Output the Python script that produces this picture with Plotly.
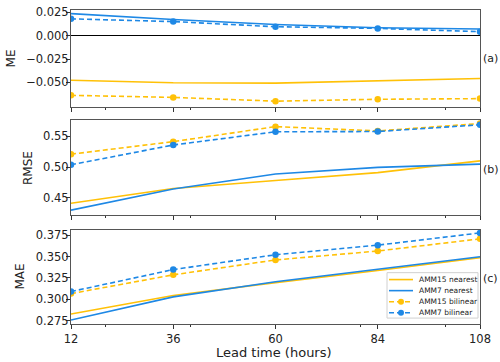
import plotly.graph_objects as go
from plotly.subplots import make_subplots

lead_time = [12, 36, 60, 84, 108]
x_ticks = [12, 36, 60, 84, 108]
x_minor = [20, 40, 60, 80, 100]

# ME
me_amm15_nearest = [-0.0476, -0.0504, -0.0507, -0.0479, -0.0458]
me_amm7_nearest = [0.0235, 0.0172, 0.0119, 0.0084, 0.0070]
me_amm15_bilinear = [-0.0638, -0.0660, -0.0700, -0.0680, -0.0673]
me_amm7_bilinear = [0.0179, 0.0150, 0.0095, 0.0077, 0.0042]

# RMSE
rmse_amm15_nearest = [0.4408, 0.4650, 0.4779, 0.4908, 0.5100]
rmse_amm7_nearest = [0.4296, 0.4640, 0.4887, 0.4995, 0.5048]
rmse_amm15_bilinear = [0.5210, 0.5415, 0.5660, 0.5590, 0.5710]
rmse_amm7_bilinear = [0.5037, 0.5360, 0.5576, 0.5580, 0.5690]

# MAE
mae_amm15_nearest = [0.2826, 0.3043, 0.3195, 0.3337, 0.3490]
mae_amm7_nearest = [0.2756, 0.3028, 0.3206, 0.3353, 0.3500]
mae_amm15_bilinear = [0.3066, 0.3287, 0.3462, 0.3567, 0.3710]
mae_amm7_bilinear = [0.3090, 0.3349, 0.3523, 0.3636, 0.3780]

me_ticks = [0.025, 0.0, -0.025, -0.05]
rmse_ticks = [0.45, 0.50, 0.55]
mae_ticks = [0.275, 0.300, 0.325, 0.350, 0.375]

series_names = ['AMM15 nearest', 'AMM7 nearest', 'AMM15 bilinear', 'AMM7 bilinear']

YELLOW = '#FFC107'
BLUE = '#1E88E5'
FONT = 'DejaVu Sans, sans-serif'
DASH = '5px,3px'

# pixel layout helpers (figure is 500x362, plot area x 71..480, y 5..325)
L, R, T, B = 71, 20, 5, 37
PW, PH = 500 - L - R, 362 - T - B


def px_x(p):
    return (p - L) / PW


def px_y(p):
    return (362 - B - p) / PH


styles = [
    dict(color=YELLOW, dash='solid', marker=False),
    dict(color=BLUE, dash='solid', marker=False),
    dict(color=YELLOW, dash=DASH, marker=True),
    dict(color=BLUE, dash=DASH, marker=True),
]

fig = make_subplots(rows=3, cols=1, vertical_spacing=0.04)

panels = [
    (me_amm15_nearest, me_amm7_nearest, me_amm15_bilinear, me_amm7_bilinear),
    (rmse_amm15_nearest, rmse_amm7_nearest, rmse_amm15_bilinear, rmse_amm7_bilinear),
    (mae_amm15_nearest, mae_amm7_nearest, mae_amm15_bilinear, mae_amm7_bilinear),
]

for i, series in enumerate(panels):
    for name, values, st in zip(series_names, series, styles):
        fig.add_trace(go.Scatter(
            x=lead_time, y=values, name=name,
            mode='lines+markers' if st['marker'] else 'lines',
            line=dict(color=st['color'], width=1.6, dash=st['dash']),
            marker=dict(size=6.5, color=st['color']),
            showlegend=False
        ), row=i + 1, col=1)

axis_common = dict(showgrid=False, showline=True, mirror=True, linecolor='#555', linewidth=1,
                   ticks='outside', ticklen=4, tickcolor='#333',
                   tickfont=dict(size=11.5, color='#222', family=FONT))

for row in (1, 2, 3):
    fig.update_xaxes(range=[12, 108], tickvals=x_ticks, showticklabels=(row == 3),
                     minor=dict(tickvals=x_minor, ticks='outside', ticklen=2, tickcolor='#333'),
                     row=row, col=1, **axis_common)

fig.update_yaxes(range=[-0.076, 0.0277], tickvals=me_ticks, tickformat='.3f',
                 zeroline=True, zerolinecolor='black', zerolinewidth=1.2, row=1, col=1, **axis_common)
fig.update_yaxes(range=[0.421, 0.577], tickvals=rmse_ticks, tickformat='.2f',
                 zeroline=False, row=2, col=1, **axis_common)
fig.update_yaxes(range=[0.2705, 0.382], tickvals=mae_ticks, tickformat='.3f',
                 zeroline=False, row=3, col=1, **axis_common)
fig.update_yaxes(ticklabelstandoff=-5)

fig.update_layout(
    yaxis=dict(domain=[px_y(104), px_y(5.7)]),
    yaxis2=dict(domain=[px_y(214), px_y(117.3)]),
    yaxis3=dict(domain=[px_y(324.3), px_y(228.3)]),
)

# y-axis titles and panel labels
for text, xpix, ypix in [('ME', 11, 55), ('RMSE', 28, 166), ('MAE', 20, 276)]:
    fig.add_annotation(text=text, xref='paper', yref='paper', x=px_x(xpix), y=px_y(ypix),
                       textangle=-90, showarrow=False, xanchor='center', yanchor='middle',
                       font=dict(size=12, color='#222', family=FONT))
for text, ypix in [('(a)', 55), ('(b)', 168), ('(c)', 278)]:
    fig.add_annotation(text=text, xref='paper', yref='paper', x=px_x(481), y=px_y(ypix),
                       showarrow=False, xanchor='left', yanchor='middle',
                       font=dict(size=11, color='#222', family=FONT))

fig.add_annotation(text='Lead time (hours)', xref='paper', yref='paper', x=px_x(274), y=px_y(353),
                   showarrow=False, xanchor='center', yanchor='middle',
                   font=dict(size=13, color='#222', family=FONT))

# compact legend box in panel (c), matplotlib style
fig.add_shape(type='rect', xref='paper', yref='paper',
              x0=px_x(387), x1=px_x(478), y0=px_y(318), y1=px_y(272),
              line=dict(color='#d0d0d0', width=1), fillcolor='rgba(255,255,255,0.85)')
for k, (name, st) in enumerate(zip(series_names, styles)):
    yp = px_y(279 + k * 11.2)
    fig.add_shape(type='line', xref='paper', yref='paper',
                  x0=px_x(389), x1=px_x(413), y0=yp, y1=yp,
                  line=dict(color=st['color'], width=1.6, dash=st['dash']))
    if st['marker']:
        fig.add_shape(type='circle', xref='paper', yref='paper',
                      x0=px_x(398), x1=px_x(404), y0=yp - 3 / PH, y1=yp + 3 / PH,
                      line=dict(color=st['color'], width=0), fillcolor=st['color'])
    fig.add_annotation(text=name, xref='paper', yref='paper', x=px_x(417), y=yp,
                       showarrow=False, xanchor='left', yanchor='middle',
                       font=dict(size=7.5, color='#222', family=FONT))

fig.update_layout(
    width=500, height=362,
    margin=dict(l=L, r=R, t=T, b=B),
    plot_bgcolor='white', paper_bgcolor='white',
    font=dict(family=FONT),
    showlegend=False,
)

fig.write_html("out.html", config={'displayModeBar': False},
               post_script="document.body.style.margin='0';")
